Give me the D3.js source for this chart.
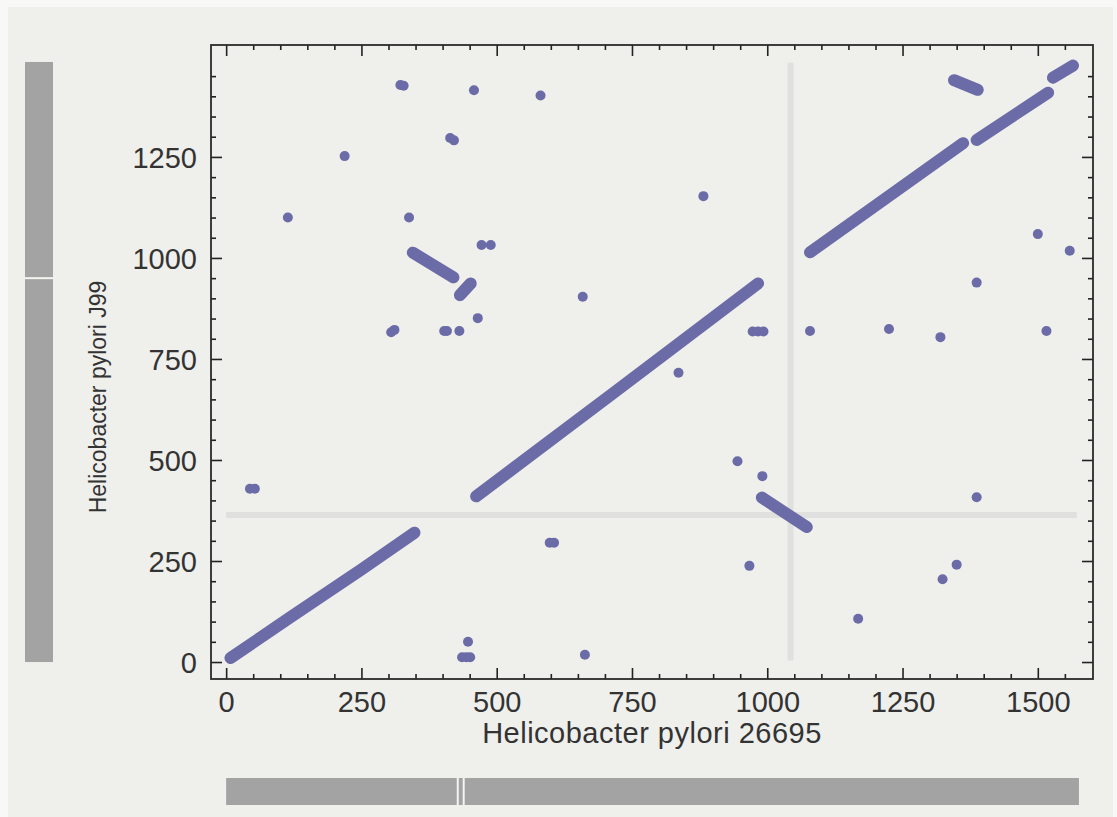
<!DOCTYPE html>
<html>
<head>
<meta charset="utf-8">
<script src="https://cdn.jsdelivr.net/npm/d3@7"></script>
<style>
  body { margin: 0; background: #f8f8f6; }
  svg { display: block; }
  text { font-family: "Liberation Sans", Arial, sans-serif; fill: #333; }
</style>
</head>
<body>
<div id="chart"></div>
<script>
// Dot plot of orthologous genes, H. pylori 26695 vs J99

var xLabel = "Helicobacter pylori 26695";
var yLabel = "Helicobacter pylori J99";

var xMajorTicks = [0, 250, 500, 750, 1000, 1250, 1500];
var yMajorTicks = [0, 250, 500, 750, 1000, 1250];

// genome lengths (gene index) and the break points shown in the side bars
var genomeX = 1576;
var genomeY = 1485;
var xBreaks = [428, 439];
var yBreaks = [950];

// light guide lines
var markX = 1043;
var markY = 364;

// runs of consecutive hits (syntenic blocks)
var blocks = [
  [[8, 10], [120, 112], [250, 229], [348, 320]],
  [[462, 410], [720, 670], [983, 937]],
  [[1079, 1014], [1362, 1284]],
  [[1387, 1292], [1519, 1409]],
  [[1528, 1446], [1565, 1476]],
  [[345, 1013], [420, 952]],
  [[432, 908], [452, 937]],
  [[990, 407], [1073, 334]],
  [[1345, 1440], [1389, 1416]]
];

// scattered single hits
var hits = [
  [322, 1428], [328, 1426], [458, 1415], [414, 1297], [421, 1291],
  [219, 1252], [114, 1100], [338, 1100], [472, 1032], [489, 1032],
  [465, 851], [305, 816], [311, 822], [403, 819], [408, 819], [431, 819],
  [581, 1402], [882, 1153], [659, 904], [973, 818], [983, 818], [993, 818],
  [1500, 1059], [1559, 1018], [1387, 939], [1079, 819], [1225, 824],
  [1320, 804], [1516, 819], [44, 429], [53, 429], [447, 50],
  [436, 12], [444, 12], [451, 12], [836, 716], [945, 497], [991, 460],
  [598, 295], [606, 295], [967, 238], [663, 18], [1387, 408],
  [1350, 241], [1324, 205], [1168, 107]
];

var svgWidth = 1117;
var svgHeight = 817;

var plot = { left: 211, right: 1093, top: 45, bottom: 679 };

var svg = d3.select("#chart")
  .append("svg")
  .attr("width", svgWidth)
  .attr("height", svgHeight);

// panel background
svg.append("rect")
  .attr("x", 8)
  .attr("y", 7)
  .attr("width", svgWidth - 12)
  .attr("height", svgHeight - 7)
  .attr("fill", "#efefec");

var x = d3.scaleLinear()
  .domain([-28, 1602])
  .range([plot.left, plot.right]);

var y = d3.scaleLinear()
  .domain([-42, 1527])
  .range([plot.bottom, plot.top]);

// guide lines
svg.append("line")
  .attr("x1", x(0)).attr("x2", x(genomeX - 4))
  .attr("y1", y(markY)).attr("y2", y(markY))
  .attr("stroke", "#e0e0de")
  .attr("stroke-width", 6);

svg.append("line")
  .attr("x1", x(markX)).attr("x2", x(markX))
  .attr("y1", y(4)).attr("y2", y(genomeY - 2))
  .attr("stroke", "#e0e0de")
  .attr("stroke-width", 6);

// blocks
var line = d3.line()
  .x(d => x(d[0]))
  .y(d => y(d[1]));

svg.append("g")
  .selectAll("path")
  .data(blocks)
  .enter()
  .append("path")
  .attr("d", line)
  .attr("fill", "none")
  .attr("stroke", "#6b6ba8")
  .attr("stroke-width", 12)
  .attr("stroke-linecap", "round")
  .attr("stroke-linejoin", "round");

// single hits
svg.append("g")
  .selectAll("circle")
  .data(hits)
  .enter()
  .append("circle")
  .attr("cx", d => x(d[0]))
  .attr("cy", d => y(d[1]))
  .attr("r", 5)
  .attr("fill", "#6b6ba8");

// axes, ticks pointing inward on all four sides
var xMinor = d3.range(0, 1551, 50).filter(v => v % 250 !== 0);
var yMinor = d3.range(0, 1451, 50).filter(v => v % 250 !== 0);

function addAxis(axisFn, scale, major, minor, transform, withLabels) {
  var g = svg.append("g").attr("transform", transform);
  g.call(axisFn(scale).tickValues(minor).tickSize(-5).tickFormat(""));
  var g2 = svg.append("g").attr("transform", transform);
  var ax = axisFn(scale).tickValues(major).tickSize(-11)
    .tickFormat(withLabels ? d3.format("d") : "");
  g2.call(ax);
  [g, g2].forEach(function(s) {
    s.select(".domain").remove();
    s.selectAll(".tick line").attr("stroke", "#222").attr("stroke-width", 1.6);
  });
  return g2;
}

var bottomAxis = addAxis(d3.axisBottom, x, xMajorTicks, xMinor, `translate(0, ${plot.bottom})`, true);
bottomAxis.selectAll("text")
  .attr("y", 12)
  .attr("dy", "0.71em");

addAxis(d3.axisTop, x, xMajorTicks, xMinor, `translate(0, ${plot.top})`, false);

var leftAxis = addAxis(d3.axisLeft, y, yMajorTicks, yMinor, `translate(${plot.left}, 0)`, true);
leftAxis.selectAll("text")
  .attr("x", -14)
  .attr("dy", "0.36em");

addAxis(d3.axisRight, y, yMajorTicks, yMinor, `translate(${plot.right}, 0)`, false);

svg.selectAll(".tick text")
  .attr("font-size", 29)
  .attr("font-family", "Liberation Sans, Arial, sans-serif")
  .attr("fill", "#333");

// frame
svg.append("rect")
  .attr("x", plot.left)
  .attr("y", plot.top)
  .attr("width", plot.right - plot.left)
  .attr("height", plot.bottom - plot.top)
  .attr("fill", "none")
  .attr("stroke", "#2a2a2a")
  .attr("stroke-width", 1.8);

// axis titles
svg.append("text")
  .attr("x", (plot.left + plot.right) / 2)
  .attr("y", 743)
  .attr("text-anchor", "middle")
  .attr("font-size", 29)
  .attr("letter-spacing", 0.5)
  .text(xLabel);

svg.append("text")
  .attr("transform", "translate(106, 397) rotate(-90)")
  .attr("text-anchor", "middle")
  .attr("font-size", 23)
  .text(yLabel);

// genome bars
svg.append("rect")
  .attr("x", x(0))
  .attr("y", 778)
  .attr("width", x(genomeX) - x(0))
  .attr("height", 27)
  .attr("fill", "#a3a3a3");

svg.selectAll(".xbreak")
  .data(xBreaks)
  .enter()
  .append("line")
  .attr("x1", d => x(d)).attr("x2", d => x(d))
  .attr("y1", 778).attr("y2", 805)
  .attr("stroke", "#f4f4f2")
  .attr("stroke-width", 2);

svg.append("rect")
  .attr("x", 25)
  .attr("y", y(genomeY))
  .attr("width", 28)
  .attr("height", y(0) - y(genomeY))
  .attr("fill", "#a3a3a3");

svg.selectAll(".ybreak")
  .data(yBreaks)
  .enter()
  .append("line")
  .attr("x1", 25).attr("x2", 53)
  .attr("y1", d => y(d)).attr("y2", d => y(d))
  .attr("stroke", "#f4f4f2")
  .attr("stroke-width", 2);
</script>
</body>
</html>
